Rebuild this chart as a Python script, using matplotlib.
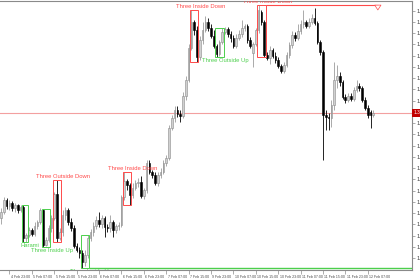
import numpy as np
import matplotlib
matplotlib.use("Agg")
import matplotlib.pyplot as plt
import matplotlib.transforms as mtransforms
from matplotlib.patches import Rectangle

plt.rcParams["font.family"] = ["Liberation Sans", "DejaVu Sans"]

# hourly OHLC
opens = [
    1.35170, 1.35218, 1.35314, 1.35266, 1.35290, 1.35250, 1.35274, 1.35234, 1.35258, 1.35010,
    1.35034, 1.35074, 1.35042, 1.35106, 1.35138, 1.35234, 1.34954, 1.34994, 1.35090, 1.35170,
    1.35362, 1.35010, 1.35058, 1.35194, 1.35234, 1.35138, 1.35090, 1.34946, 1.34914, 1.34890,
    1.34818, 1.34874, 1.35010, 1.35058, 1.35106, 1.35154, 1.35122, 1.35170, 1.35098, 1.35090,
    1.35138, 1.35074, 1.35106, 1.35114, 1.35338, 1.35466, 1.35434, 1.35354, 1.35410, 1.35450,
    1.35458, 1.35346, 1.35394, 1.35610, 1.35538, 1.35514, 1.35450, 1.35514, 1.35538, 1.35610,
    1.35650, 1.35890, 1.35970, 1.36034, 1.36002, 1.35986, 1.36146, 1.36274, 1.36530, 1.36738,
    1.36674, 1.36458, 1.36594, 1.36674, 1.36738, 1.36690, 1.36626, 1.36546, 1.36482, 1.36578,
    1.36658, 1.36682, 1.36642, 1.36610, 1.36546, 1.36610, 1.36642, 1.36690, 1.36706, 1.36594,
    1.36490, 1.36562, 1.36674, 1.36818, 1.36738, 1.36474, 1.36450, 1.36514, 1.36466, 1.36434,
    1.36386, 1.36346, 1.36394, 1.36474, 1.36554, 1.36634, 1.36610, 1.36666, 1.36722, 1.36738,
    1.36706, 1.36738, 1.36770, 1.36730, 1.36578, 1.36498, 1.35994, 1.35978, 1.35970, 1.36074,
    1.36274, 1.36306, 1.36258, 1.36138, 1.36114, 1.36146, 1.36122, 1.36194, 1.36226, 1.36210,
    1.36114, 1.36050, 1.36018, 1.35994,
]
highs = [
    1.35250, 1.35338, 1.35330, 1.35314, 1.35306, 1.35290, 1.35282, 1.35274, 1.35274, 1.35050,
    1.35098, 1.35090, 1.35138, 1.35154, 1.35250, 1.35242, 1.35018, 1.35114, 1.35194, 1.35378,
    1.35474, 1.35090, 1.35234, 1.35258, 1.35250, 1.35170, 1.35114, 1.34970, 1.34938, 1.34914,
    1.34914, 1.35034, 1.35082, 1.35138, 1.35186, 1.35218, 1.35194, 1.35186, 1.35122, 1.35194,
    1.35154, 1.35122, 1.35138, 1.35354, 1.35538, 1.35482, 1.35450, 1.35450, 1.35474, 1.35490,
    1.35506, 1.35410, 1.35634, 1.35634, 1.35554, 1.35538, 1.35538, 1.35570, 1.35634, 1.35674,
    1.35914, 1.35994, 1.36066, 1.36066, 1.36034, 1.36178, 1.36306, 1.36562, 1.36834, 1.36754,
    1.36706, 1.36626, 1.36738, 1.36786, 1.36770, 1.36722, 1.36674, 1.36562, 1.36594, 1.36690,
    1.36698, 1.36698, 1.36666, 1.36634, 1.36642, 1.36674, 1.36754, 1.36722, 1.36722, 1.36618,
    1.36578, 1.36690, 1.36874, 1.36834, 1.36754, 1.36498, 1.36546, 1.36530, 1.36498, 1.36458,
    1.36402, 1.36418, 1.36498, 1.36578, 1.36666, 1.36658, 1.36722, 1.36754, 1.36834, 1.36754,
    1.36770, 1.36802, 1.36850, 1.36746, 1.36594, 1.36514, 1.36034, 1.36010, 1.36114, 1.36418,
    1.36394, 1.36338, 1.36274, 1.36162, 1.36170, 1.36170, 1.36218, 1.36274, 1.36250, 1.36226,
    1.36138, 1.36074, 1.36034, 1.36034,
]
lows = [
    1.35122, 1.35202, 1.35242, 1.35234, 1.35226, 1.35218, 1.35210, 1.35218, 1.34978, 1.34978,
    1.35018, 1.35026, 1.35026, 1.35082, 1.35122, 1.34938, 1.34946, 1.34978, 1.35058, 1.35154,
    1.34978, 1.34994, 1.35026, 1.35154, 1.35114, 1.35066, 1.34930, 1.34898, 1.34850, 1.34770,
    1.34786, 1.34850, 1.34986, 1.35026, 1.35082, 1.35098, 1.35090, 1.35018, 1.35058, 1.35058,
    1.35018, 1.35050, 1.35074, 1.35098, 1.35314, 1.35394, 1.35274, 1.35330, 1.35394, 1.35418,
    1.35330, 1.35322, 1.35370, 1.35522, 1.35490, 1.35434, 1.35426, 1.35490, 1.35522, 1.35586,
    1.35634, 1.35874, 1.35938, 1.35978, 1.35938, 1.35970, 1.36114, 1.36258, 1.36514, 1.36634,
    1.36418, 1.36434, 1.36562, 1.36658, 1.36666, 1.36610, 1.36530, 1.36458, 1.36466, 1.36562,
    1.36642, 1.36618, 1.36578, 1.36530, 1.36530, 1.36594, 1.36618, 1.36666, 1.36570, 1.36530,
    1.36378, 1.36546, 1.36650, 1.36714, 1.36458, 1.36434, 1.36402, 1.36450, 1.36410, 1.36370,
    1.36330, 1.36330, 1.36378, 1.36450, 1.36530, 1.36586, 1.36594, 1.36642, 1.36690, 1.36690,
    1.36690, 1.36722, 1.36714, 1.36562, 1.36474, 1.35634, 1.35874, 1.35874, 1.35898, 1.36034,
    1.36210, 1.36226, 1.36122, 1.36090, 1.36098, 1.36106, 1.36106, 1.36178, 1.36186, 1.36098,
    1.36034, 1.35970, 1.35890, 1.35978,
]
closes = [
    1.35218, 1.35314, 1.35266, 1.35290, 1.35250, 1.35274, 1.35234, 1.35258, 1.35010, 1.35034,
    1.35074, 1.35042, 1.35106, 1.35138, 1.35234, 1.34954, 1.34994, 1.35090, 1.35170, 1.35362,
    1.35010, 1.35058, 1.35194, 1.35234, 1.35138, 1.35090, 1.34946, 1.34914, 1.34890, 1.34818,
    1.34874, 1.35010, 1.35058, 1.35106, 1.35154, 1.35122, 1.35170, 1.35098, 1.35090, 1.35138,
    1.35074, 1.35106, 1.35114, 1.35338, 1.35466, 1.35434, 1.35354, 1.35410, 1.35450, 1.35458,
    1.35346, 1.35394, 1.35610, 1.35538, 1.35514, 1.35450, 1.35514, 1.35538, 1.35610, 1.35650,
    1.35890, 1.35970, 1.36034, 1.36002, 1.35986, 1.36146, 1.36274, 1.36530, 1.36738, 1.36674,
    1.36458, 1.36594, 1.36674, 1.36738, 1.36690, 1.36626, 1.36546, 1.36482, 1.36578, 1.36658,
    1.36682, 1.36642, 1.36610, 1.36546, 1.36610, 1.36642, 1.36690, 1.36706, 1.36594, 1.36546,
    1.36562, 1.36674, 1.36834, 1.36738, 1.36474, 1.36450, 1.36514, 1.36466, 1.36434, 1.36386,
    1.36346, 1.36394, 1.36474, 1.36554, 1.36634, 1.36610, 1.36666, 1.36722, 1.36738, 1.36706,
    1.36738, 1.36770, 1.36730, 1.36578, 1.36498, 1.35994, 1.35978, 1.35970, 1.36074, 1.36274,
    1.36306, 1.36258, 1.36138, 1.36114, 1.36146, 1.36122, 1.36194, 1.36226, 1.36210, 1.36114,
    1.36050, 1.35994, 1.35994, 1.36010,
]

tick_bars = [3, 11, 19, 27, 35, 43, 51, 59, 67, 75, 83, 91, 99, 107, 115, 123, 131]
tick_labels = ["4 Feb 23:00", "5 Feb 07:00", "5 Feb 15:00", "5 Feb 23:00",
               "6 Feb 07:00", "6 Feb 15:00", "6 Feb 23:00", "7 Feb 07:00",
               "7 Feb 15:00", "9 Feb 23:00", "10 Feb 07:00", "10 Feb 15:00",
               "10 Feb 23:00", "11 Feb 07:00", "11 Feb 15:00", "11 Feb 23:00",
               "12 Feb 07:00"]

# candlestick patterns: name, first bar, last bar, bullish?
pat_names = ["Harami", "Three Inside Up", "Three Outside Down", "Three Inside Up",
             "Three Inside Down", "Three Inside Down", "Three Outside Up",
             "Three Inside Down"]
pat_first = [8, 15, 19, 29, 44, 68, 77, 92]
pat_last = [9, 17, 21, 31, 46, 70, 79, 94]
pat_bull = [True, True, False, True, False, False, True, False]

RED = "#ff4a4a"
GREEN = "#4ccf4c"

o = np.array(opens); h = np.array(highs); l = np.array(lows); c = np.array(closes)
x = np.arange(len(c))

fig = plt.figure(figsize=(4.2, 2.8), dpi=100)
ax = fig.add_axes([0, 10 / 280, 412 / 420, 269 / 280])
ax.set_xlim(-0.36, 146.8)
ax.set_ylim(1.34754, 1.36906)

# current price line
ax.axhline(c[-1], color="#f3a0a0", lw=0.8, zorder=1)

up = c >= o
body_lo = np.minimum(o, c)
body_h = np.maximum(np.abs(c - o), 0.00002)
ax.vlines(x[up], l[up], h[up], color="#9c9c9c", lw=0.6, zorder=2)
ax.vlines(x[~up], l[~up], h[~up], color="black", lw=0.6, zorder=2)
ax.bar(x[up], body_h[up], bottom=body_lo[up], width=0.62, color="#d0d0d0",
       edgecolor="#8a8a8a", linewidth=0.4, zorder=3)
ax.bar(x[~up], body_h[~up], bottom=body_lo[~up], width=0.62, color="black",
       edgecolor="black", linewidth=0.4, zorder=3)

# pattern boxes and labels
for name, a, b, bull in zip(pat_names, pat_first, pat_last, pat_bull):
    col = GREEN if bull else RED
    top = h[a:b + 1].max()
    bot = l[a:b + 1].min()
    ax.add_patch(Rectangle((a - 0.5, bot), b - a + 1, top - bot, fill=False,
                           edgecolor=col, lw=0.7, zorder=4))
    if bull:
        ax.annotate(name, (b + 1.2, bot), xytext=(0, -2.8), textcoords="offset points",
                    ha="center", va="center", fontsize=4.2, color=col,
                    annotation_clip=False, clip_on=True, zorder=5)
    else:
        ax.annotate(name, (b + 1.2, top), xytext=(0, 2.4), textcoords="offset points",
                    ha="center", va="center", fontsize=4.2, color=col,
                    annotation_clip=False, clip_on=True, zorder=5)

# level lines from two of the patterns
low_lvl = l[pat_first[3]:pat_last[3] + 1].min()
ax.hlines(low_lvl, pat_last[3] + 0.5, 146.8, color=GREEN, lw=1.0, zorder=4)
hi_lvl = h[pat_first[7]:pat_last[7] + 1].max()
end_bar = len(c) + 0.6
ax.hlines(hi_lvl, pat_last[7] + 0.5, end_bar, color=RED, lw=0.8, zorder=4)
ax.annotate("", xy=(end_bar, hi_lvl - 0.00062), xytext=(end_bar, hi_lvl),
            arrowprops=dict(arrowstyle="simple,head_width=0.45,head_length=0.35,tail_width=0.2",
                            fc="white", ec=RED, lw=0.5), zorder=5)

# axes styling (MetaTrader-like)
ax.spines["left"].set_visible(False)
for side in ("top", "right", "bottom"):
    ax.spines[side].set_color("#8a8a8a")
    ax.spines[side].set_linewidth(0.8)

ax.yaxis.tick_right()
yt = np.arange(1.3485, 1.36835, 0.0009)
ax.set_yticks(yt)
# the price tag hides the label under it
ax.set_yticklabels(["" if abs(v - c[-1]) < 0.0003 else f"{v:.4f}" for v in yt])
ax.tick_params(axis="y", direction="out", length=2, width=0.5, pad=1,
               labelsize=4, colors="#8a8a8a", labelcolor="#404040")

ax.set_xticks(tick_bars)
ax.set_xticklabels(tick_labels, ha="left")
ax.tick_params(axis="x", direction="out", length=3, width=0.5, pad=0.6,
               labelsize=2.6, colors="#8a8a8a", labelcolor="#4a4a4a")
for lab in ax.get_xticklabels():
    lab.set_transform(lab.get_transform() + mtransforms.ScaledTranslation(1.0 / 72, 0, fig.dpi_scale_trans))

# price tag on the axis
ax.text(1.004, c[-1], f"{c[-1]:.4f}", transform=ax.get_yaxis_transform(),
        fontsize=3.4, color="white", va="center", ha="left", clip_on=False,
        bbox=dict(boxstyle="square,pad=0.25", fc="#c00000", ec="none"))

fig.savefig("out.png", dpi=100)
